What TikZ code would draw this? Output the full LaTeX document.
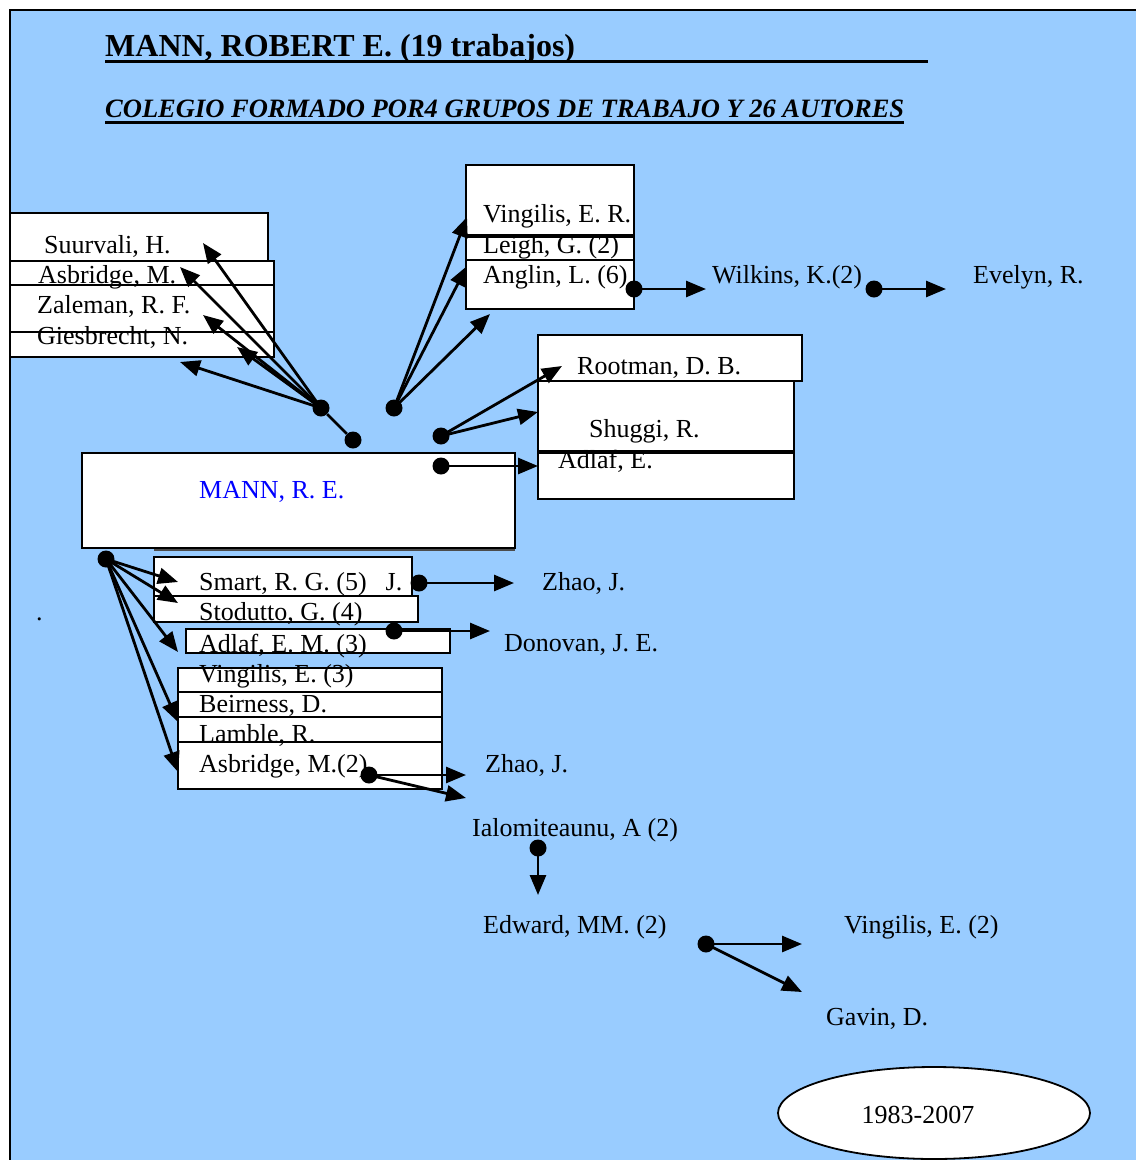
\documentclass[tikz,border=0pt]{standalone}
\usepackage{fontspec}
\setmainfont{Liberation Serif}
\usetikzlibrary{arrows.meta,shapes.geometric}
\definecolor{sky}{RGB}{153,204,255}
\definecolor{nameblue}{RGB}{0,0,255}
\begin{document}
\begin{tikzpicture}[x=1pt,y=-1pt,
  box/.style={draw=black, line width=2pt, fill=white, anchor=north west, inner sep=0pt, outer sep=0pt},
  lbl/.style={anchor=base west, inner sep=0pt, font=\fontsize{26}{30}\selectfont},
  dot/.style={circle, fill=black, inner sep=0pt, minimum size=17pt},
  arr/.style={line width=2.8pt, -{Triangle[length=20pt,width=16pt]}},
  link/.style={line width=2.8pt}]

% page and coloured panel
\useasboundingbox (0,0) rectangle (1136,1160);
\fill[white] (0,0) rectangle (1136,1160);
\fill[sky] (10,10) rectangle (1136,1160);
\draw[line width=2pt] (10,1160) -- (10,10) -- (1136,10);

% headings
\node[anchor=base west, inner sep=0pt, font=\bfseries\fontsize{32}{36}\selectfont] (title) at (105,56) {MANN, ROBERT E. (19 trabajos)};
\draw[line width=3pt] ([yshift=-5pt]title.base west) -- ++(823,0);
\node[anchor=base west, inner sep=0pt, font=\bfseries\itshape\fontsize{26.5}{30}\selectfont] (sub) at (105,117) {COLEGIO FORMADO POR4 GRUPOS DE TRABAJO Y 26 AUTORES};
\draw[line width=3pt] ([yshift=-5pt]sub.base west) -- ([yshift=-5pt]sub.base east);

% upper left group
\node[box, minimum width=258pt, minimum height=48pt] (bSuur) at (10,213) {};
\node[box, minimum width=264pt, minimum height=24pt] (bAsb) at (10,261) {};
\node[box, minimum width=264pt, minimum height=47pt] (bZal) at (10,285) {};
\node[box, minimum width=264pt, minimum height=25pt] (bGies) at (10,332) {};

% upper middle group
\node[box, minimum width=168pt, minimum height=71pt] (bVER) at (466,165) {};
\node[box, minimum width=168pt, minimum height=24pt] (bLeigh) at (466,236) {};
\node[box, minimum width=168pt, minimum height=49pt] (bAnglin) at (466,260) {};
\draw[line width=3.5pt] (bLeigh.north west) -- (bLeigh.north east);

% right group
\node[box, minimum width=264pt, minimum height=46pt] (bRoot) at (538,335) {};
\node[box, minimum width=256pt, minimum height=71pt] (bShug) at (538,381) {};
\node[box, minimum width=256pt, minimum height=47pt] (bAdlafE) at (538,452) {};
\draw[line width=3.5pt] (bAdlafE.north west) -- (bAdlafE.north east);

% central author
\draw[line width=2pt, black!70] (154,550) -- (515,550);
\node[box, minimum width=433pt, minimum height=95pt] (bMann) at (82,453) {};

% lower groups
\node[box, minimum width=258pt, minimum height=39pt] (bSmart) at (154,557) {};
\node[box, minimum width=264pt, minimum height=26pt] (bStod) at (154,596) {};
\node[box, minimum width=264pt, minimum height=24pt] (bAdlafEM) at (186,629) {};
\node[box, minimum width=264pt, minimum height=24pt] (bVing3) at (178,668) {};
\node[box, minimum width=264pt, minimum height=25pt] (bBeir) at (178,692) {};
\node[box, minimum width=264pt, minimum height=25pt] (bLamb) at (178,717) {};
\node[box, minimum width=264pt, minimum height=47pt] (bAsb2) at (178,742) {};

% names
\node[lbl] (tSuur) at (44,253) {Suurvali, H.};
\node[lbl] (tAsb) at (38,283) {Asbridge, M.};
\node[lbl] (tZal) at (37,313) {Zaleman, R. F.};
\node[lbl] (tGies) at (37,344) {Giesbrecht, N.};
\node[lbl] (tVER) at (483,222) {Vingilis, E. R.};
\node[lbl] (tLeigh) at (483,253) {Leigh, G. (2)};
\node[lbl] (tAnglin) at (483,283) {Anglin, L. (6)};
\node[lbl] (tWilk) at (712,283) {Wilkins, K.(2)};
\node[lbl] (tEvel) at (973,283) {Evelyn, R.};
\node[lbl] (tRoot) at (577,374) {Rootman, D. B.};
\node[lbl] (tShug) at (589,437) {Shuggi, R.};
\node[lbl] (tAdlafE) at (558,468) {Adlaf, E.};
\node[lbl, text=nameblue] (tMann) at (199,498) {MANN, R. E.};
\node[lbl] (tSmart) at (199,590) {Smart, R. G. (5)\hspace{19pt}J.};
\node[lbl] (tStod) at (199,620) {Stodutto, G. (4)};
\node[lbl] (tZhao1) at (542,590) {Zhao, J.};
\node[lbl] (tAdlafEM) at (199,652) {Adlaf, E. M. (3)};
\node[lbl] (tDon) at (504,651) {Donovan, J. E.};
\node[lbl] (tVing3) at (199,682) {Vingilis, E. (3)};
\node[lbl] (tBeir) at (199,712) {Beirness, D.};
\node[lbl] (tLamb) at (199,742) {Lamble, R.};
\node[lbl] (tAsb2) at (199,772) {Asbridge, M.(2)};
\node[lbl] (tZhao2) at (485,772) {Zhao, J.};
\node[lbl] (tIalo) at (472,836) {Ialomiteaunu, A (2)};
\node[lbl] (tEdw) at (483,933) {Edward, MM. (2)};
\node[lbl] (tVing2) at (844,933) {Vingilis, E. (2)};
\node[lbl] (tGavin) at (826,1025) {Gavin, D.};
\node[lbl] (tStray) at (36,620) {.};

% period
\node[draw=black, line width=1.8pt, fill=white, ellipse, minimum width=312pt, minimum height=92pt] (period) at (934,1113) {};
\node[lbl, anchor=base] (tPeriod) at (918,1123) {1983-2007};

% link origins
\node[dot] (d1) at (321,408) {};
\node[dot] (d2) at (353,440) {};
\node[dot] (d3) at (394,408) {};
\node[dot] (d4) at (441,436) {};
\node[dot] (d5) at (441,466) {};
\node[dot] (d6) at (634,289) {};
\node[dot] (d7) at (874,289) {};
\node[dot] (d8) at (106,559) {};
\node[dot] (d9) at (419,583) {};
\node[dot] (d10) at (394,631) {};
\node[dot] (d11) at (369,775) {};
\node[dot] (d12) at (538,848) {};
\node[dot] (d13) at (706,944) {};

% arrow ends
\coordinate (e1a) at (203,243);
\coordinate (e1b) at (180,267);
\coordinate (e1c) at (203,315);
\coordinate (e1d) at (237,347);
\coordinate (e1e) at (180,362);
\coordinate (e3a) at (467,217);
\coordinate (e3b) at (467,266);
\coordinate (e3c) at (490,314);
\coordinate (e4a) at (562,366);
\coordinate (e4b) at (538,412);
\coordinate (e5) at (538,466);
\coordinate (e6) at (706,289);
\coordinate (e7) at (946,289);
\coordinate (e8a) at (178,582);
\coordinate (e8b) at (178,603);
\coordinate (e8c) at (178,652);
\coordinate (e8d) at (178,722);
\coordinate (e8e) at (178,772);
\coordinate (e9) at (514,583);
\coordinate (e10) at (490,631);
\coordinate (e11a) at (466,775);
\coordinate (e11b) at (466,798);
\coordinate (e12) at (538,895);
\coordinate (e13a) at (802,944);
\coordinate (e13b) at (802,992);

% links
\draw[link] (d1) -- (d2);
\foreach \t in {e1a,e1b,e1c,e1d,e1e} \draw[arr] (d1.center) -- (\t);
\foreach \t in {e3a,e3b,e3c} \draw[arr] (d3.center) -- (\t);
\foreach \t in {e4a,e4b} \draw[arr] (d4.center) -- (\t);
\draw[arr] (d5.center) -- (e5);
\draw[arr] (d6.center) -- (e6);
\draw[arr] (d7.center) -- (e7);
\foreach \t in {e8a,e8b,e8c,e8d,e8e} \draw[arr] (d8.center) -- (\t);
\draw[arr] (d9.center) -- (e9);
\draw[arr] (d10.center) -- (e10);
\foreach \t in {e11a,e11b} \draw[arr] (d11.center) -- (\t);
\draw[arr] (d12.center) -- (e12);
\foreach \t in {e13a,e13b} \draw[arr] (d13.center) -- (\t);
\end{tikzpicture}
\end{document}
